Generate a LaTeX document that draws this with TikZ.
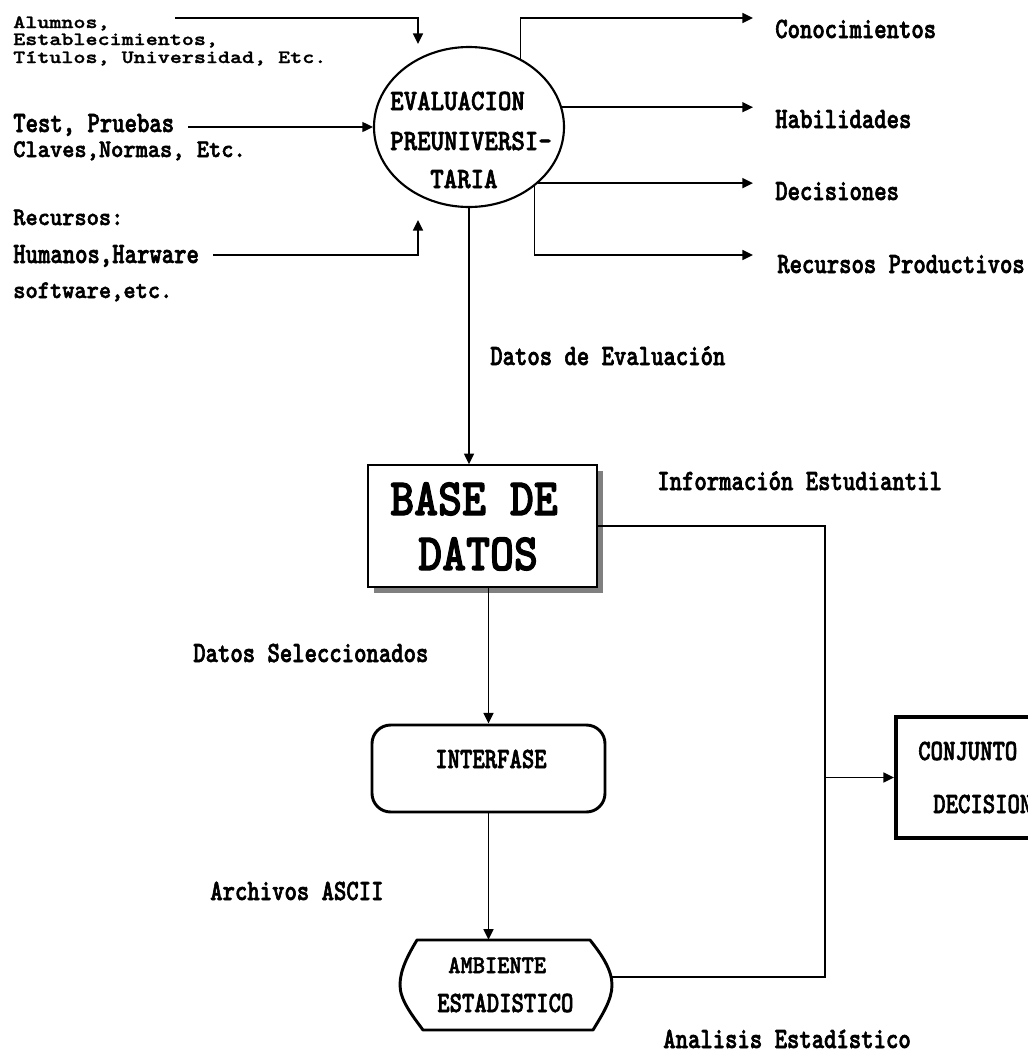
\documentclass[tikz,border=0pt]{standalone}
\usepackage{fontspec}
\usetikzlibrary{arrows.meta,shapes.geometric,shadows}
% narrow typewriter faces in a few widths
\newfontfamily\fontA[FakeStretch=0.80,FakeBold=2]{lmmonolt10-bold.otf}
\newfontfamily\fontB[FakeStretch=0.92,FakeBold=2]{lmmonolt10-bold.otf}
\newfontfamily\fontC[FakeStretch=1.22,FakeBold=1.5]{lmmonolt10-bold.otf}
\newfontfamily\fontD[FakeStretch=0.87,FakeBold=2]{lmmonolt10-bold.otf}
\def\u{0.75pt}
\tikzset{
  lbl/.style={inner sep=0pt, anchor=base west, font=\fontA\fontsize{22.1}{26}\selectfont},
  lblB/.style={lbl, font=\fontB\fontsize{19}{23}\selectfont},
  lblC/.style={lbl, font=\fontC\fontsize{14.1}{17}\selectfont},
  lblE/.style={lbl, font=\fontD\fontsize{22.1}{26}\selectfont},
  lblD/.style={lbl, font=\fontD\fontsize{39.3}{46}\selectfont},
  conn/.style={line width=1.2pt},
  arr/.style={conn, -{Triangle[length=8pt,width=7.5pt]}},
}
\begin{document}
\begin{tikzpicture}[x=0.75pt,y=-0.75pt]
\useasboundingbox (0,0) rectangle (1028,1057);
\clip (0,0) rectangle (1028,1057);

% central process
\node[draw, ellipse, line width=1.6pt, minimum width=190*\u, minimum height=160*\u, inner sep=0pt] (ev) at (469,127) {};
\node[lblE] (ev1) at (390,110) {EVALUACION};
\node[lblE] (ev2) at (390,150) {PREUNIVERSI-};
\node[lblE] (ev3) at (430,188) {TARIA};

% inputs
\node[lblC] (tA1) at (13,28) {Alumnos,};
\node[lblC] (tA2) at (13,45) {Establecimientos,};
\node[lblC] (tA3) at (13,63) {Títulos, Universidad, Etc.};
\node[lbl]  (tB1) at (13,132) {Test, Pruebas};
\node[lblB] (tB2) at (13,157) {Claves,Normas, Etc.};
\node[lblB] (tC1) at (13,225) {Recursos:};
\node[lbl]  (tC2) at (13,263) {Humanos,Harware};
\node[lblB] (tC3) at (13,298) {software,etc.};

\coordinate (inA0) at (175,18);
\coordinate (inA1) at (418,44);
\coordinate (inB0) at (188,127);
\coordinate (inC0) at (213,255);
\coordinate (inC1) at (418,220);
\draw[arr] (inA0) -| (inA1);
\draw[arr] (inB0) -- (ev.west);
\draw[arr] (inC0) -| (inC1);

% outputs
\coordinate (oA) at (753,18);
\coordinate (oB) at (753,108);
\coordinate (oC) at (753,182);
\coordinate (oD) at (753,255);
\draw[arr] (ev.53) |- (oA);
\draw[arr] (ev.12) -- (ev.12 -| oB);
\draw[arr] (ev.-39) -- (ev.-39 -| oC);
\draw[arr] (ev.-42) |- (oD);
\node[lbl] (lA) at (775,38) {Conocimientos};
\node[lbl] (lB) at (775,128) {Habilidades};
\node[lbl] (lC) at (775,200) {Decisiones};
\node[lbl] (lD) at (777,273) {Recursos Productivos};

% database
\node[draw, line width=1.2pt, fill=white, minimum width=229*\u, minimum height=122*\u, inner sep=0pt,
      drop shadow={opacity=1, fill=black!50, shadow xshift=4.5pt, shadow yshift=-4.5pt}] (bd) at (482.5,526) {};
\node[lblD] (bd1) at (390,515) {BASE DE};
\node[lblD] (bd2) at (418,570) {DATOS};
\draw[arr] (ev.south) -- (ev.south |- bd.north);
\node[lbl] (dEv) at (490,365) {Datos de Evaluación};
\node[lbl] (iEst) at (657,490) {Información Estudiantil};

% interface
\node[draw, rounded corners=14pt, line width=2.2pt, minimum width=233*\u, minimum height=87*\u, inner sep=0pt] (ifs) at (488.5,768.5) {};
\node[lbl] (ifsT) at (435,768) {INTERFASE};
\draw[arr] (ifs.north |- bd.south) -- (ifs.north);
\node[lbl] (dSel) at (193,662) {Datos Seleccionados};

% statistics environment
\node[inner sep=0pt, minimum width=212*\u, minimum height=90*\u] (amb) at (506,985) {};
\draw[line width=2.2pt, line join=round]
  (417,940) -- (590,940) .. controls (602,955) and (612,970) .. (612,985)
  .. controls (612,1000) and (602,1015) .. (593,1030) -- (423,1030)
  .. controls (412,1015) and (400,1000) .. (400,985)
  .. controls (400,970) and (408,955) .. (417,940) -- cycle;
\node[lblB] (amb1) at (448,973) {AMBIENTE};
\node[lbl]  (amb2) at (437,1012) {ESTADISTICO};
\draw[arr] (ifs.south) -- (ifs.south |- amb.north);
\node[lbl] (arch) at (210,900) {Archivos ASCII};

% decision set
\node[draw, line width=3pt, minimum width=224*\u, minimum height=121*\u, inner sep=0pt] (cj) at (1008,777.5) {};
\node[lbl] (cj1) at (918,760) {CONJUNTO};
\node[lbl] (cj2) at (933,813) {DECISIONES};

\coordinate (cr) at (825,977);
\draw[conn] (bd.east) -| (cr) -- (cr -| amb.east);
\draw[arr] (cj.west -| cr) -- (cj.west);
\node[lbl] (anal) at (663,1048) {Analisis Estadístico};
\end{tikzpicture}
\end{document}
